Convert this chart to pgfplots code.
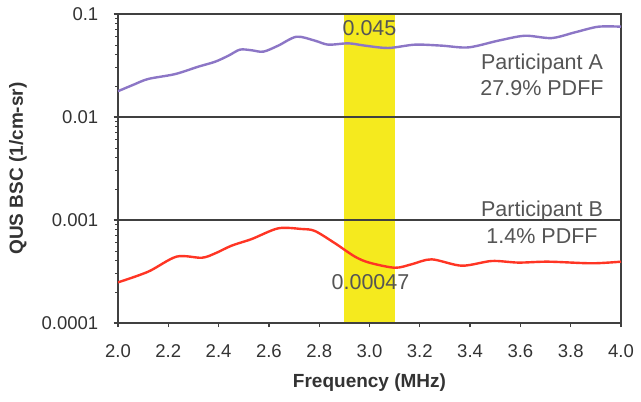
\documentclass[border=0pt]{standalone}
\usepackage{pgfplots}
\pgfplotsset{compat=1.18}
\usepackage{fontspec}
\setmainfont{Liberation Sans}
\definecolor{axgray}{HTML}{404040}
\definecolor{txtgray}{HTML}{333333}
\definecolor{anngray}{HTML}{555555}
\definecolor{bandyellow}{HTML}{F5EA1E}
\definecolor{purpleA}{HTML}{8C76C6}
\definecolor{redB}{HTML}{FF3524}
\begin{document}
\begin{tikzpicture}
\begin{axis}[
  scale only axis,
  width=503bp, height=309bp,
  xmin=2, xmax=4,
  ymode=log, ymin=1e-4, ymax=1e-1,
  xtick={2,2.2,2.4,2.6,2.8,3.0,3.2,3.4,3.6,3.8,4.0},
  xticklabels={2.0,2.2,2.4,2.6,2.8,3.0,3.2,3.4,3.6,3.8,4.0},
  ytick={1e-4,1e-3,1e-2,1e-1},
  yticklabels={0.0001,0.001,0.01,0.1},
  minor ytick={2e-4,3e-4,4e-4,5e-4,6e-4,7e-4,8e-4,9e-4,2e-3,3e-3,4e-3,5e-3,6e-3,7e-3,8e-3,9e-3,2e-2,3e-2,4e-2,5e-2,6e-2,7e-2,8e-2,9e-2},
  xtick pos=bottom, ytick pos=left,
  tick align=outside,
  major tick style={black!75, line width=1.3bp},
  minor tick style={black!75, line width=1bp},
  axis line style={axgray, line width=1.4bp},
  ticklabel style={font=\fontsize{18.5bp}{20bp}\selectfont, text=txtgray},
  xticklabel style={yshift=-14bp},
  yticklabel style={xshift=-12bp},
  xlabel={\textbf{Frequency (MHz)}},
  ylabel={\textbf{QUS BSC (1/cm-sr)}},
  label style={font=\fontsize{19bp}{21bp}\selectfont, text=txtgray},
  xlabel style={yshift=-9bp},
  ylabel style={yshift=8bp},
]
\addplot[draw=none, fill=bandyellow] coordinates {(2.9,1.016e-4) (2.9,0.0984) (3.1,0.0984) (3.1,1.016e-4)} -- cycle;
\addplot[axgray, line width=1.3bp] coordinates {(2,0.01) (4,0.01)};
\addplot[axgray, line width=1.3bp] coordinates {(2,0.001) (4,0.001)};
\addplot[purpleA, line width=2.4bp, smooth, tension=0.5] coordinates {
(2.000,0.0178) (2.060,0.0205) (2.120,0.0234) (2.227,0.0261) (2.319,0.0308) (2.386,0.0344)
(2.440,0.0395) (2.485,0.0451) (2.530,0.0445) (2.578,0.0431) (2.637,0.0493) (2.710,0.0602)
(2.783,0.0551) (2.836,0.0504) (2.916,0.0519) (2.982,0.0493) (3.075,0.0468) (3.181,0.0504)
(3.287,0.0493) (3.393,0.0474) (3.512,0.0551) (3.618,0.0615) (3.724,0.0584) (3.817,0.0664)
(3.910,0.0753) (4.000,0.0753)};
\addplot[redB, line width=2.4bp, smooth, tension=0.5] coordinates {
(2.000,0.000248) (2.120,0.000315) (2.233,0.000441) (2.333,0.000430) (2.386,0.000474)
(2.452,0.000564) (2.532,0.000654) (2.637,0.000830) (2.730,0.000818) (2.783,0.000782)
(2.863,0.000594) (2.942,0.000441) (3.000,0.000385) (3.101,0.000344) (3.168,0.000372)
(3.247,0.000415) (3.367,0.000360) (3.486,0.000400) (3.592,0.000386) (3.711,0.000394)
(3.884,0.000380) (4.000,0.000394)};
\node[anchor=base, font=\fontsize{21.5bp}{23bp}\selectfont, text=anngray] at (axis cs:3.0,0.0625) {0.045};
\node[anchor=base, font=\fontsize{21.5bp}{23bp}\selectfont, text=anngray] at (axis cs:3.686,0.0292) {Participant A};
\node[anchor=base, font=\fontsize{21.5bp}{23bp}\selectfont, text=anngray] at (axis cs:3.686,0.0161) {27.9\% PDFF};
\node[anchor=base, font=\fontsize{21.5bp}{23bp}\selectfont, text=anngray] at (axis cs:3.686,0.001077) {Participant B};
\node[anchor=base, font=\fontsize{21.5bp}{23bp}\selectfont, text=anngray] at (axis cs:3.686,0.000594) {1.4\% PDFF};
\node[anchor=base, font=\fontsize{21.5bp}{23bp}\selectfont, text=anngray] at (axis cs:3.004,0.000212) {0.00047};
\end{axis}
\path ([shift={(-118bp,-79bp)}]current axis.south west) rectangle ([shift={(20bp,14bp)}]current axis.north east);
\end{tikzpicture}
\end{document}
